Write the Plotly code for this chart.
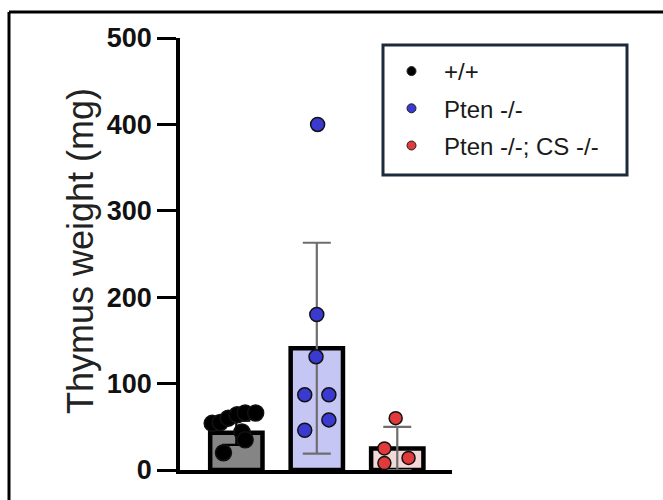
import plotly.graph_objects as go

# ---- data ----
groups = ["+/+", "Pten -/-", "Pten -/-; CS -/-"]
group_pos = [0, 1, 2]
bar_means = [43, 141, 25]
bar_sd = [14, 122, 25]

wt_offsets = [-0.30, -0.20, -0.10, 0.01, 0.11, 0.24, 0.07, 0.11, -0.16]
wt_values = [54, 55, 60, 64, 66, 66, 44, 35, 20]

pten_offsets = [0.01, 0.0, -0.01, -0.15, 0.15, 0.15, -0.15]
pten_values = [400, 180, 131, 87, 87, 58, 46]

dko_offsets = [-0.02, -0.16, -0.16, 0.14]
dko_values = [60, 25, 8, 14]

bar_fills = ["#858585", "#c6c6f4", "#f3d8d8"]
dot_colors = ["#000000", "#3a3ad0", "#e03a3a"]
err_colors = ["#000000", "#6e6e6e", "#6e6e6e"]

FONT = "Arial, 'Liberation Sans', Helvetica, sans-serif"

# plot-area pixel geometry (for paper conversions)
L, R, T, B = 180, 452, 38, 470
def xp(px):
    return (px - L) / (R - L)
def yp(py):
    return (B - py) / (B - T)

fig = go.Figure()

# bars with SD error bars
for i in range(3):
    fig.add_trace(go.Bar(
        x=[group_pos[i]], y=[bar_means[i]], width=0.65,
        marker=dict(color=bar_fills[i], line=dict(color="black", width=4.5)),
        error_y=dict(type="data", array=[bar_sd[i]], visible=True,
                     color=err_colors[i], thickness=2.2, width=14),
        showlegend=False, hoverinfo="skip",
    ))

# individual points
pts = [(wt_offsets, wt_values), (pten_offsets, pten_values), (dko_offsets, dko_values)]
sizes = [16, 14, 13]
for i, (offs, vals) in enumerate(pts):
    fig.add_trace(go.Scatter(
        x=[group_pos[i] + o for o in offs], y=vals, mode="markers",
        marker=dict(color=dot_colors[i], size=sizes[i],
                    line=dict(color="#111111", width=1.5)),
        showlegend=False, hoverinfo="skip",
    ))

# legend-only entries
for i in range(3):
    fig.add_trace(go.Scatter(
        x=[None], y=[None], mode="markers", name=groups[i],
        legendgroup=groups[i],
        marker=dict(color=dot_colors[i], size=9,
                    line=dict(color="#222222", width=1)),
    ))

shapes = [
    # legend frame
    dict(type="rect", xref="paper", yref="paper",
         x0=xp(383), x1=xp(627), y0=yp(175), y1=yp(45),
         line=dict(color="#1d2a3a", width=3), fillcolor="rgba(0,0,0,0)"),
    # outer figure frame (top and left edges)
    dict(type="line", xref="paper", yref="paper",
         x0=xp(9), x1=xp(680), y0=yp(12), y1=yp(12),
         line=dict(color="black", width=3)),
    dict(type="line", xref="paper", yref="paper",
         x0=xp(9), x1=xp(9), y0=yp(12), y1=yp(520),
         line=dict(color="black", width=3)),
]

fig.update_layout(
    width=663, height=500,
    margin=dict(l=L, r=663 - R, t=T, b=500 - B),
    paper_bgcolor="white", plot_bgcolor="white",
    barmode="overlay",
    showlegend=True,
    legend=dict(x=xp(379), y=yp(49), xanchor="left", yanchor="top",
                bgcolor="rgba(0,0,0,0)", borderwidth=0,
                font=dict(family=FONT, size=24, color="#1a1a1a"),
                itemwidth=55, tracegroupgap=3),
    xaxis=dict(range=[-0.70, 2.68], showticklabels=False, ticks="",
               showgrid=False, zeroline=False,
               showline=True, linecolor="black", linewidth=3.5),
    yaxis=dict(range=[0, 500], tickvals=[0, 100, 200, 300, 400, 500],
               ticks="outside", ticklen=19, tickwidth=3, tickcolor="black",
               tickfont=dict(family=FONT, size=27, color="#111111", weight="bold"),
               showgrid=False, zeroline=False,
               showline=True, linecolor="black", linewidth=3.5),
    shapes=shapes,
    annotations=[dict(text="Thymus weight (mg)", xref="paper", yref="paper",
                      x=xp(80), y=yp(251), xanchor="center", yanchor="middle",
                      textangle=-90, showarrow=False,
                      font=dict(family=FONT, size=36, color="#222222"))],
)

fig.write_html("out.html")
